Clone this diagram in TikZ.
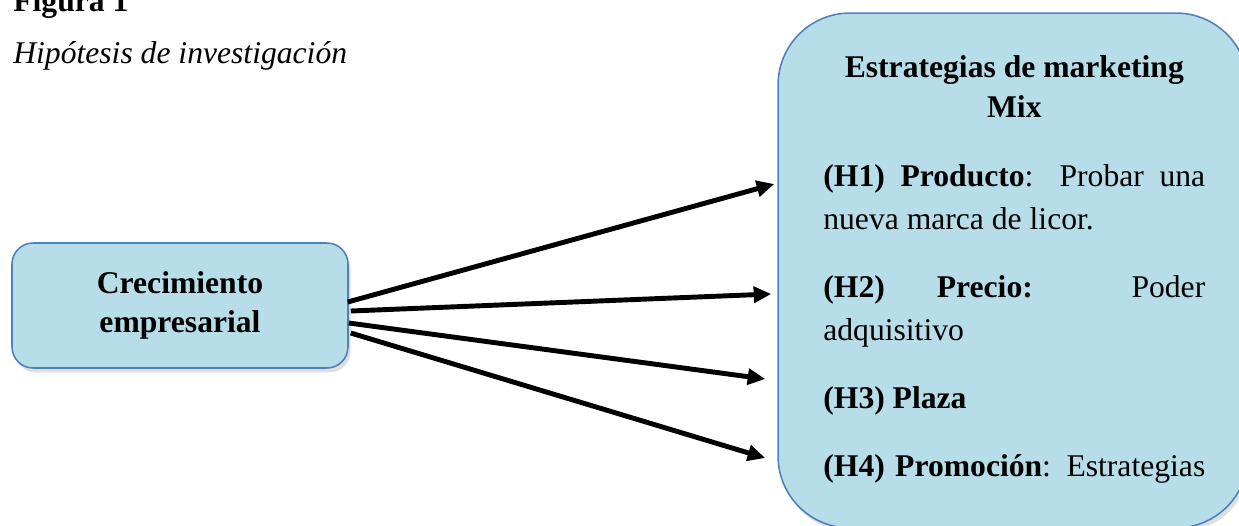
\documentclass[tikz,border=0pt]{standalone}
\usepackage{fontspec}
\setmainfont{Liberation Serif}
\usetikzlibrary{arrows.meta,calc,shadows}
\definecolor{hyfill}{RGB}{183,221,232}
\definecolor{hyedge}{RGB}{79,129,189}
\tikzset{
  hybox/.style={
    draw=hyedge, fill=hyfill, line width=0.9pt,
    drop shadow={shadow xshift=1.5pt, shadow yshift=-2.5pt, opacity=0.25}
  },
  varbox/.style={
    hybox, rounded corners=0.42cm, minimum width=6.72cm, minimum height=2.5cm,
    align=center, font=\fontsize{18}{22.2}\selectfont\bfseries
  },
  mixbox/.style={hybox, rounded corners=1.44cm, minimum width=9.4cm, minimum height=10.3cm},
  hyp/.style={
    anchor=north west, inner sep=0pt, text width=7.64cm, align=justify,
    font=\fontsize{18}{24.5}\selectfont
  },
  head/.style={anchor=base west, inner sep=0pt, font=\fontsize{18}{21}\selectfont},
  arr/.style={-{Triangle[length=10pt,width=9pt]}, draw=black, line width=2.8pt}
}
\begin{document}
\begin{tikzpicture}[x=0.02cm,y=-0.02cm]
  \useasboundingbox (0,0) rectangle (1239,525);
  \clip (0,0) rectangle (1239,525);
  % caption
  \node[head] (fig) at (13,11) {\bfseries Figura 1};
  \node[head] (tit) at (13,63) {\itshape Hipótesis de investigación};
  % boxes
  \node[varbox] (crec) at (180,305.5) {Crecimiento\\empresarial};
  \node[mixbox] (mix) at (1013,270.5) {};
  \node[hyp] (mixtxt) at (823,55) {%
    {\centering\bfseries\fontsize{18}{22.8}\selectfont Estrategias de marketing\\Mix\par}
    \vspace{15pt}
    \makebox[\linewidth][s]{\textbf{(H1) Producto}: Probar una}\\
    nueva marca de licor.\par
    \vspace{14.2pt}
    \makebox[\linewidth][s]{\textbf{(H2) Precio:} Poder}\\
    adquisitivo\par
    \vspace{14.2pt}
    \textbf{(H3) Plaza}\par
    \vspace{14.2pt}
    \makebox[\linewidth][s]{\textbf{(H4) Promoción}: Estrategias}\par
  };
  % hypotheses
  \draw[arr] ($(crec.east)+(-1,-3.5)$) -- ($(mix.west)+(-3,-86.5)$);
  \draw[arr] ($(crec.east)+(2,5.5)$) -- ($(mix.west)+(-6,23.5)$);
  \draw[arr] ($(crec.east)+(0,17.5)$) -- ($(mix.west)+(-12,108.5)$);
  \draw[arr] ($(crec.east)+(2,27.5)$) -- ($(mix.west)+(-12,187.5)$);
\end{tikzpicture}
\end{document}
